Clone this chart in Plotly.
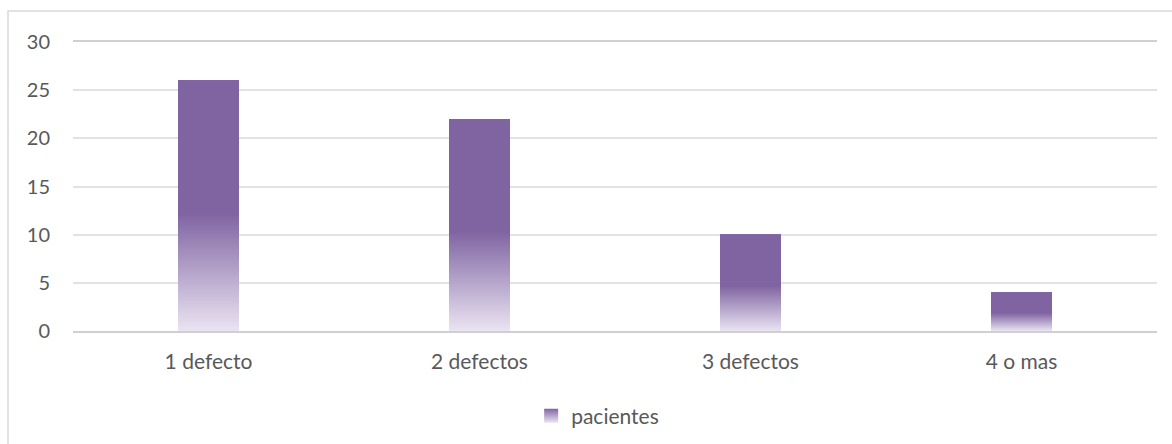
import plotly.graph_objects as go

# Data
categories = ["1 defecto", "2 defectos", "3 defectos", "4 o mas"]
pacientes = [26, 22, 10, 4]
y_ticks = [0, 5, 10, 15, 20, 25, 30]
series_name = "pacientes"

# Styling
SOLID = (128, 100, 162)   # #8064A2
LIGHT = (234, 228, 242)
SOLID_FROM = 0.47         # fraction of bar height where the fade ends
STEPS = 48
FONT = "Lato, Calibri, Arial, sans-serif"
TEXT = "#595959"
BAR_W = 0.225


def mix(t):
    t = max(0.0, min(1.0, t))
    r, g, b = (round(LIGHT[k] + (SOLID[k] - LIGHT[k]) * t) for k in range(3))
    return f"rgb({r},{g},{b})"


fig = go.Figure()

# Gradient fade: each layer starts higher and runs to the top of the bar;
# later layers paint over earlier ones, leaving a thin band of each colour.
for i in range(STEPS):
    f = SOLID_FROM * i / STEPS
    base = [v * f for v in pacientes]
    fig.add_trace(go.Bar(
        x=categories,
        y=[v - b for v, b in zip(pacientes, base)],
        base=base,
        width=BAR_W,
        marker=dict(color=mix((i + 0.5) / STEPS), line=dict(width=0)),
        showlegend=False,
        hoverinfo="skip",
    ))

# Solid upper part of each bar
base = [v * SOLID_FROM for v in pacientes]
fig.add_trace(go.Bar(
    x=categories,
    y=[v - b for v, b in zip(pacientes, base)],
    base=base,
    width=BAR_W,
    name=series_name,
    marker=dict(color=mix(1.0), line=dict(width=0)),
    customdata=pacientes,
    hovertemplate="%{x}: %{customdata}<extra></extra>",
    showlegend=False,
))

# Legend key: a square with the same vertical fade
fig.add_trace(go.Scatter(
    x=[None], y=[None],
    mode="markers",
    name=series_name,
    marker=dict(
        symbol="square",
        size=14,
        color=mix(1.0),
        gradient=dict(type="vertical", color=mix(0.0)),
        line=dict(width=0),
    ),
    hoverinfo="skip",
))

fig.update_layout(
    width=1172,
    height=444,
    barmode="overlay",
    paper_bgcolor="white",
    plot_bgcolor="white",
    margin=dict(l=73, r=15, t=42, b=113, autoexpand=False),
    font=dict(family=FONT, size=21, color=TEXT),
    legend=dict(
        orientation="h",
        x=0.484, xanchor="center",
        yref="container",
        y=28 / 444, yanchor="middle",
        font=dict(size=21, color=TEXT),
        itemwidth=30,
        itemsizing="trace",
    ),
    xaxis=dict(
        showgrid=False,
        showline=True,
        linecolor="#d0d0d0",
        linewidth=1.5,
        mirror=True,
        ticks="",
        ticklabelstandoff=11,
        tickfont=dict(size=21, color=TEXT),
    ),
    yaxis=dict(
        range=[0, 30],
        tickvals=y_ticks,
        showgrid=True,
        gridcolor="#e3e3e3",
        gridwidth=1.5,
        zeroline=False,
        showline=False,
        ticks="",
        ticklabelstandoff=22,
        tickfont=dict(size=20, color=TEXT),
    ),
    shapes=[dict(
        type="rect",
        xref="paper", yref="paper",
        x0=(8 - 73) / 1084, x1=1.2,
        y0=-0.5, y1=1 + 31 / 289,
        line=dict(color="#d9d9d9", width=1.5),
        fillcolor="rgba(0,0,0,0)",
        layer="below",
    )],
)

fig.write_html("out.html")
